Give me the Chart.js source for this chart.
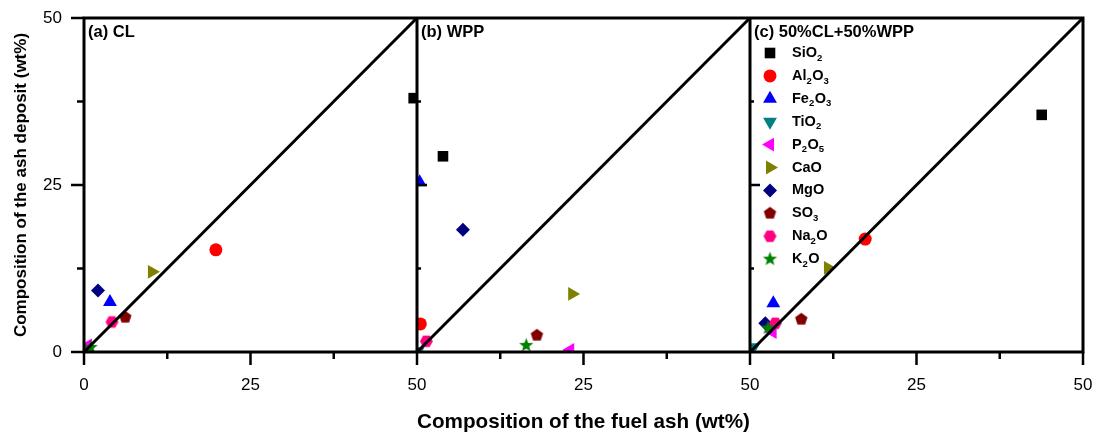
<!DOCTYPE html>
<html>
<head>
<meta charset="utf-8">
<title>Ash deposit vs fuel ash composition</title>
<script src="https://cdn.jsdelivr.net/npm/chart.js@4"></script>
<style>
  html, body { margin: 0; padding: 0; background: #fff; }
  #wrap { width: 1095px; height: 436px; }
</style>
</head>
<body>
<div id="wrap"><canvas id="ashChart"></canvas></div>
<script>
const oxides = ['SiO2', 'Al2O3', 'Fe2O3', 'TiO2', 'P2O5', 'CaO', 'MgO', 'SO3', 'Na2O', 'K2O'];
const panelTitles = ['(a) CL', '(b) WPP', '(c) 50%CL+50%WPP'];
const tickValues = [0, 12.5, 25, 37.5, 50];

// composition in fuel ash (x) and in ash deposit (y), wt%, in oxide order
const clFuel     = [49.5, 19.8, 3.9, 0.4, 0.6, 10.2, 2.1, 6.2, 4.2, 1.0];
const clDeposit  = [38.0, 15.3, 7.5, 0.3, 1.0, 12.0, 9.2, 5.2, 4.5, 0.7];
const wppFuel    = [3.9, 0.5, 0.4, 0.1, 23.0, 23.3, 6.9, 18.0, 1.4, 16.4];
const wppDeposit = [29.3, 4.2, 25.4, 0.1, 0.3, 8.7, 18.3, 2.5, 1.6, 1.0];
const mixFuel    = [43.8, 17.3, 3.5, 0.5, 3.4, 11.7, 2.3, 7.7, 3.8, 2.7];
const mixDeposit = [35.5, 16.9, 7.3, 0.7, 3.0, 12.6, 4.3, 4.9, 4.3, 3.6];

const FONT = '"Liberation Sans", Arial, sans-serif';
const colors = ['#000000', '#ff0000', '#0000ff', '#008080', '#ff00ff', '#808000', '#000080', '#800000', '#ff0080', '#008000'];

// filled polygon / star drawn onto a small canvas, used as a point style
function shapeMarker(sides, radius, start, color, inner) {
  const size = Math.ceil(radius * 2) + 2;
  const c = document.createElement('canvas');
  c.width = c.height = size;
  const g = c.getContext('2d');
  g.fillStyle = color;
  g.beginPath();
  const n = inner ? sides * 2 : sides;
  for (let i = 0; i < n; i++) {
    const r = inner && i % 2 ? radius * inner : radius;
    const a = start + i * 2 * Math.PI / n;
    const px = size / 2 + r * Math.cos(a), py = size / 2 + r * Math.sin(a);
    if (i) g.lineTo(px, py); else g.moveTo(px, py);
  }
  g.closePath();
  g.fill();
  return c;
}

const pointStyles = ['rect', 'circle', 'triangle', 'triangle', 'triangle', 'triangle', 'rectRot',
  shapeMarker(5, 6.5, -Math.PI / 2, colors[7]),
  shapeMarker(6, 6.5, 0, colors[8]),
  shapeMarker(5, 7.5, -Math.PI / 2, colors[9], 0.42)];
const pointRadii = [7.5, 6.5, 8, 8, 8, 8, 7, 6.5, 6.5, 7.5];
const pointRotations = [0, 0, 0, 180, 270, 90, 0, 0, 0, 0];

function toPoints(xs, ys) {
  return xs.map((x, i) => ({x: x, y: ys[i]}));
}

function scatterSet(xs, ys, axisId) {
  return {
    type: 'scatter',
    data: toPoints(xs, ys),
    xAxisID: axisId,
    yAxisID: 'y',
    order: 1,
    backgroundColor: colors,
    pointStyle: pointStyles,
    pointRadius: pointRadii,
    pointRotation: pointRotations,
    pointBorderWidth: 0,
    borderWidth: 0
  };
}

function diagonalSet(axisId) {
  return {
    type: 'line',
    data: [{x: 0, y: 0}, {x: 50, y: 50}],
    xAxisID: axisId,
    yAxisID: 'y',
    order: 0,
    borderColor: '#000',
    borderWidth: 3,
    pointRadius: 0,
    fill: false
  };
}

function xScale(showZero, title) {
  return {
    type: 'linear',
    axis: 'x',
    position: 'bottom',
    stack: 'panels',
    min: 0,
    max: 50,
    grid: {display: false, drawTicks: false},
    border: {display: false},
    ticks: {
      stepSize: 12.5,
      autoSkip: false,
      maxRotation: 0,
      padding: 23,
      color: '#000',
      font: {family: FONT, size: 17},
      callback: v => (v % 25 === 0 && (showZero || v !== 0)) ? v : ''
    },
    title: title ? {
      display: true,
      text: title,
      color: '#000',
      font: {family: FONT, size: 21, weight: 'bold'},
      padding: {top: 0, bottom: 1}
    } : {display: false},
    afterFit: s => { s.height = 84; s.paddingLeft = 0; s.paddingRight = 0; }
  };
}

// frames, tick marks and panel captions
const framePlugin = {
  id: 'panelFrames',
  afterDatasetsDraw(chart) {
    const ctx = chart.ctx;
    const y = chart.scales.y;
    const panels = [chart.scales.xa, chart.scales.xb, chart.scales.xc];
    ctx.save();
    ctx.strokeStyle = '#000';
    ctx.lineWidth = 3;
    ctx.lineCap = 'square';
    ctx.beginPath();
    ctx.moveTo(panels[0].left, y.top);
    ctx.lineTo(panels[2].right, y.top);
    ctx.moveTo(panels[0].left, y.bottom);
    ctx.lineTo(panels[2].right, y.bottom);
    panels.forEach(p => {
      ctx.moveTo(p.left, y.top);
      ctx.lineTo(p.left, y.bottom);
    });
    ctx.moveTo(panels[2].right, y.top);
    ctx.lineTo(panels[2].right, y.bottom);
    ctx.stroke();

    ctx.lineWidth = 2.5;
    ctx.lineCap = 'butt';
    ctx.beginPath();
    tickValues.forEach(v => {
      const len = v % 25 === 0 ? 12 : 6;
      const py = y.getPixelForValue(v);
      ctx.moveTo(panels[0].left - len - 1, py);
      ctx.lineTo(panels[0].left, py);
      if (v > 0 && v < 50) {
        ctx.moveTo(panels[1].left, py);
        ctx.lineTo(panels[1].left + len - 2, py);
        ctx.moveTo(panels[2].left, py);
        ctx.lineTo(panels[2].left + len - 2, py);
      }
      panels.forEach(p => {
        const px = p.getPixelForValue(v);
        ctx.moveTo(px, y.bottom);
        ctx.lineTo(px, y.bottom + len + 1);
      });
    });
    ctx.stroke();

    ctx.fillStyle = '#000';
    ctx.font = 'bold 16.5px ' + FONT;
    ctx.textBaseline = 'middle';
    ctx.textAlign = 'left';
    panels.forEach((p, i) => ctx.fillText(panelTitles[i], p.left + 4, y.top + 14));
    ctx.restore();
  }
};

// legend with subscripted formulas inside the last panel
function drawFormula(ctx, text, x, y) {
  let cx = x;
  text.match(/\d+|\D+/g).forEach(part => {
    const sub = /\d/.test(part);
    ctx.font = sub ? 'bold 9.5px ' + FONT : 'bold 14.5px ' + FONT;
    ctx.fillText(part, cx, sub ? y + 5 : y);
    cx += ctx.measureText(part).width + (sub ? 0.5 : 0);
  });
}

const legendPlugin = {
  id: 'oxideLegend',
  afterDatasetsDraw(chart) {
    const ctx = chart.ctx;
    const left = chart.scales.xc.left;
    const top = chart.scales.y.top;
    ctx.save();
    ctx.textBaseline = 'middle';
    ctx.textAlign = 'left';
    oxides.forEach((name, i) => {
      const ry = top + 35 + i * 22.9;
      ctx.fillStyle = colors[i];
      Chart.helpers.drawPoint(ctx, {
        pointStyle: pointStyles[i],
        radius: pointRadii[i],
        rotation: pointRotations[i],
        borderWidth: 0
      }, left + 20, ry);
      ctx.fillStyle = '#000';
      drawFormula(ctx, name, left + 42, ry);
    });
    ctx.restore();
  }
};

new Chart(document.getElementById('ashChart'), {
  data: {
    datasets: [
      diagonalSet('xa'), diagonalSet('xb'), diagonalSet('xc'),
      scatterSet(clFuel, clDeposit, 'xa'),
      scatterSet(wppFuel, wppDeposit, 'xb'),
      scatterSet(mixFuel, mixDeposit, 'xc')
    ]
  },
  options: {
    responsive: true,
    maintainAspectRatio: false,
    animation: false,
    layout: {padding: {left: 0, right: 12, top: 18, bottom: 0}},
    plugins: {legend: {display: false}, tooltip: {enabled: false}},
    scales: {
      xa: xScale(true, null),
      xb: xScale(false, 'Composition of the fuel ash (wt%)'),
      xc: xScale(false, null),
      y: {
        type: 'linear',
        position: 'left',
        min: 0,
        max: 50,
        grid: {display: false, drawTicks: false},
        border: {display: false},
        ticks: {
          stepSize: 12.5,
          autoSkip: false,
          padding: 22,
          color: '#000',
          font: {family: FONT, size: 17},
          callback: v => v % 25 === 0 ? v : ''
        },
        title: {
          display: true,
          text: 'Composition of the ash deposit (wt%)',
          color: '#000',
          font: {family: FONT, size: 17, weight: 'bold'},
          padding: {top: 11, bottom: 0}
        },
        afterFit: s => { s.width = 84; s.paddingTop = 0; s.paddingBottom = 0; }
      }
    }
  },
  plugins: [framePlugin, legendPlugin]
});
</script>
</body>
</html>
